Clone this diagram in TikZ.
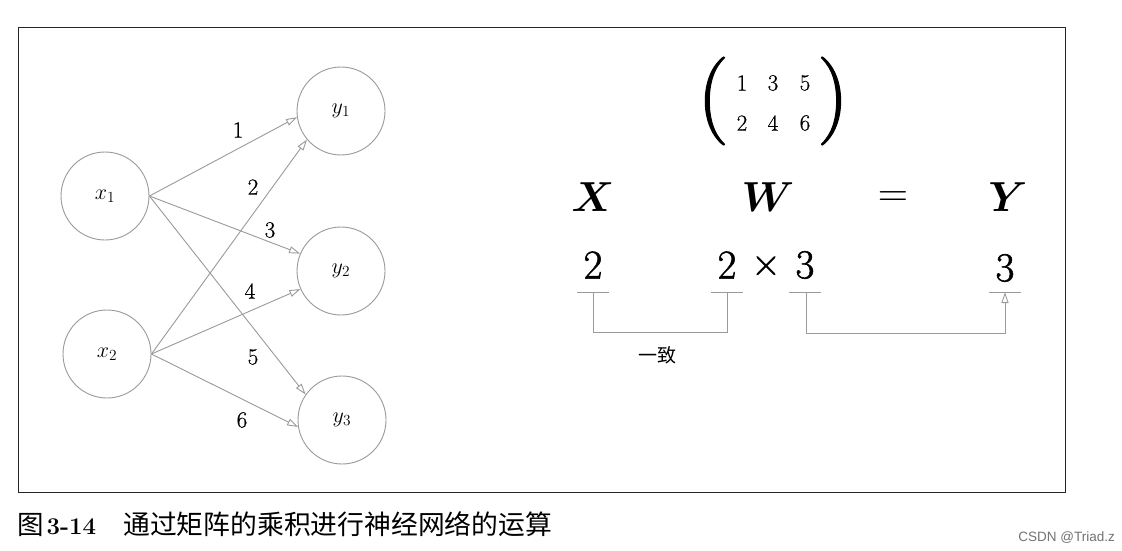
\documentclass[tikz,border=0pt]{standalone}
\usepackage{fix-cm}
\usepackage{amsmath,bm}
\usepackage{fontspec}
\newfontfamily\cjk{Noto Sans CJK SC}
\newfontfamily\heavy{Latin Modern Roman}[FakeBold=1.3]
\newfontfamily\semi{Latin Modern Roman}[FakeBold=0.6]
\newfontfamily\wmfont{Liberation Sans}
\usetikzlibrary{arrows.meta}
\definecolor{lg}{HTML}{9A9A9A}
\tikzset{
  neuron/.style={circle,draw=lg,line width=0.9pt,minimum size=88pt,inner sep=0pt,
    font=\fontsize{22}{26}\selectfont},
  wlabel/.style={font=\semi\fontsize{23}{27}\selectfont,inner sep=0pt},
  edge/.style={draw=lg,line width=0.9pt,-{Triangle[open,length=11pt,width=7pt]}},
  big/.style={font=\fontsize{42}{48}\selectfont,inner sep=0pt},
  num/.style={font=\heavy\fontsize{41}{46}\selectfont,inner sep=0pt},
  mat/.style={font=\semi\fontsize{23}{27}\selectfont,inner sep=0pt},
  paren/.style={font=\heavy\fontsize{88}{90}\selectfont,inner sep=0pt},
  brk/.style={draw=lg,line width=0.9pt},
}
\begin{document}
\begin{tikzpicture}[x=1pt,y=-1pt]
\fill[white] (0,0) rectangle (1122,551);
\useasboundingbox (0,0) rectangle (1122,551);
\draw[black!85,line width=1pt] (18,28) rectangle (1065,492);
% neurons
\node[neuron] (x1) at (105,196) {$x_1$};
\node[neuron] (x2) at (107,354) {$x_2$};
\node[neuron] (y1) at (341,111) {$y_1$};
\node[neuron] (y2) at (341,271) {$y_2$};
\node[neuron] (y3) at (342,420) {$y_3$};
% edges
\draw[edge] (x1.east) -- (y1.188);
\draw[edge] (x2.east) -- (y1.220);
\draw[edge] (x1.east) -- (y2.157);
\draw[edge] (x2.east) -- (y2.204);
\draw[edge] (x1.east) -- (y3.145);
\draw[edge] (x2.east) -- (y3.189);
% weights
\node[wlabel] (w1) at (238,130) {1};
\node[wlabel] (w2) at (253,187) {2};
\node[wlabel] (w3) at (270,230) {3};
\node[wlabel] (w4) at (250,291) {4};
\node[wlabel] (w5) at (253,357) {5};
\node[wlabel] (w6) at (242,420) {6};
% matrix
\node[paren] (lp) at (713,101) {(};
\node[paren] (rp) at (833,101) {)};
\node[mat] (m11) at (742,83) {1};
\node[mat] (m12) at (773,83) {3};
\node[mat] (m13) at (805,83) {5};
\node[mat] (m21) at (742,123) {2};
\node[mat] (m22) at (773,123) {4};
\node[mat] (m23) at (805,123) {6};
% equation
\node[big] (X) at (593,197) {$\bm{X}$};
\node[big] (W) at (768,197) {$\bm{W}$};
\node[big] (eq) at (893,199) {$=$};
\node[big] (Y) at (1008,197) {$\bm{Y}$};
\node[num] (n1) at (593,265) {2};
\node[num] (n2) at (727,265) {2};
\node[num] (times) at (766,266) {×};
\node[num] (n3) at (805,265) {3};
\node[num] (n4) at (1005,268) {3};
% brackets
\coordinate (a1) at (593,292);
\coordinate (a2) at (727,292);
\coordinate (b1) at (806,292);
\coordinate (b2) at (1005,292);
\draw[brk] (577,292) -- (609,292);
\draw[brk] (711,292) -- (743,292);
\draw[brk] (789,292) -- (821,292);
\draw[brk] (989,292) -- (1021,292);
\draw[brk] (a1) -- (593,332) -- (727,332) -- (a2);
\draw[brk,-{Triangle[open,length=11pt,width=7pt]}] (b1) -- (806,333) -- (1005,333) -- (b2);
\node[inner sep=0pt,font=\cjk\fontsize{19}{22}\selectfont] (yz) at (657,355) {一致};
% caption
\node[anchor=west,inner sep=0pt] (cap) at (17,524) {{\cjk\fontsize{26.5}{30}\selectfont 图}\hspace{3pt}{\fontsize{24}{28}\selectfont\bfseries 3-14}\hspace{27pt}{\cjk\fontsize{26.8}{30}\selectfont 通过矩阵的乘积进行神经网络的运算}};
\node[anchor=east,inner sep=0pt,text=black!55,font=\wmfont\fontsize{13.5}{15}\selectfont] (wm) at (1115,538) {CSDN @Triad.z};
\end{tikzpicture}
\end{document}
